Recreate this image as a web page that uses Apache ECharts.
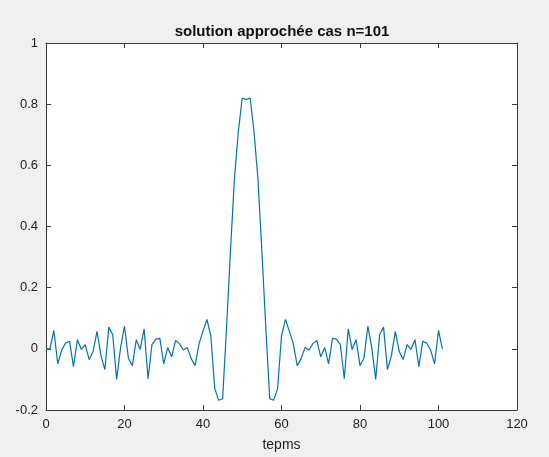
<!DOCTYPE html>
<html>
<head>
<meta charset="utf-8">
<script src="https://cdn.jsdelivr.net/npm/echarts@6/dist/echarts.min.js"></script>
<style>
  html, body { margin: 0; padding: 0; background: #f0f0f0; }
  #chart { width: 549px; height: 457px; }
</style>
</head>
<body>
<div id="chart"></div>
<script>
// Chart data
const chartTitle = 'solution approchée cas n=101';
const xAxisName = 'tepms';
const xTicks = [0, 20, 40, 60, 80, 100, 120];
const xTickLabels = ['0', '20', '40', '60', '80', '100', '120'];
const yTicks = [-0.2, 0, 0.2, 0.4, 0.6, 0.8, 1];
const yTickLabels = ['-0.2', '0', '0.2', '0.4', '0.6', '0.8', '1'];
// solution values at t = 0, 1, 2, ..., 101
const solution = [
  0, 0, 0.060, -0.049, -0.004, 0.019, 0.025, -0.058, 0.030, -0.002,
  0.014, -0.035, -0.009, 0.057, -0.022, -0.068, 0.071, 0.046, -0.100, 0.004,
  0.074, -0.031, -0.055, 0.030, -0.002, 0.065, -0.098, 0.014, 0.032, 0.034,
  -0.049, 0.004, -0.026, 0.027, 0.017, -0.004, 0.004, -0.032, -0.055, 0.017,
  0.058, 0.096, 0.042, -0.130, -0.168, -0.163, 0.070, 0.320, 0.555, 0.710,
  0.820, 0.815, 0.820, 0.710, 0.555, 0.320, 0.070, -0.163, -0.168, -0.130,
  0.042, 0.096, 0.058, 0.017, -0.055, -0.032, 0.004, -0.004, 0.017, 0.027,
  -0.026, 0.004, -0.049, 0.034, 0.032, 0.014, -0.098, 0.065, -0.002, 0.030,
  -0.055, -0.031, 0.074, 0.004, -0.100, 0.046, 0.071, -0.068, -0.022, 0.057,
  -0.009, -0.035, 0.014, -0.002, 0.030, -0.058, 0.025, 0.019, -0.004, -0.049,
  0.060, 0
];

const seriesData = solution.map((v, i) => [i, v]);

function lookup(ticks, labels, v) {
  for (let i = 0; i < ticks.length; i++) {
    if (Math.abs(ticks[i] - v) < 1e-9) return labels[i];
  }
  return '';
}

const axisColor = '#3a3a3a';
const font = '"Liberation Sans", Arial, Helvetica, sans-serif';

const chart = echarts.init(document.getElementById('chart'), null, { renderer: 'canvas' });
chart.setOption({
  backgroundColor: '#f0f0f0',
  animation: false,
  title: {
    text: chartTitle,
    left: 277,
    top: 19,
    textAlign: 'center',
    textStyle: { fontFamily: font, fontSize: 15, fontWeight: 'bold', color: '#111' }
  },
  grid: {
    left: 46, top: 43, right: 32, bottom: 46,
    show: true, backgroundColor: '#ffffff', borderWidth: 0
  },
  xAxis: [{
    type: 'value', min: 0, max: 120, interval: 20, position: 'bottom',
    name: xAxisName, nameLocation: 'middle', nameGap: 28,
    nameTextStyle: { fontFamily: font, fontSize: 14, color: '#222' },
    axisLine: { show: true, onZero: false, lineStyle: { color: axisColor, width: 1 } },
    axisTick: { show: true, inside: true, length: 5, lineStyle: { color: axisColor } },
    axisLabel: { fontFamily: font, fontSize: 13, color: '#222', margin: 8,
      formatter: v => lookup(xTicks, xTickLabels, v) },
    splitLine: { show: false }
  }, {
    type: 'value', min: 0, max: 120, interval: 20, position: 'top',
    axisLine: { show: true, onZero: false, lineStyle: { color: axisColor, width: 1 } },
    axisTick: { show: true, inside: true, length: 5, lineStyle: { color: axisColor } },
    axisLabel: { show: false },
    splitLine: { show: false }
  }],
  yAxis: [{
    type: 'value', min: -0.2, max: 1, interval: 0.2, position: 'left',
    axisLine: { show: true, onZero: false, lineStyle: { color: axisColor, width: 1 } },
    axisTick: { show: true, inside: true, length: 5, lineStyle: { color: axisColor } },
    axisLabel: { fontFamily: font, fontSize: 13, color: '#222', margin: 8,
      formatter: v => lookup(yTicks, yTickLabels, v) },
    splitLine: { show: false }
  }, {
    type: 'value', min: -0.2, max: 1, interval: 0.2, position: 'right',
    axisLine: { show: true, onZero: false, lineStyle: { color: axisColor, width: 1 } },
    axisTick: { show: true, inside: true, length: 5, lineStyle: { color: axisColor } },
    axisLabel: { show: false },
    splitLine: { show: false }
  }],
  series: [{
    type: 'line',
    xAxisIndex: 0, yAxisIndex: 0,
    data: seriesData,
    showSymbol: false,
    symbol: 'none',
    lineStyle: { color: '#0072BD', width: 1.2 },
    clip: true
  }]
});
</script>
</body>
</html>
